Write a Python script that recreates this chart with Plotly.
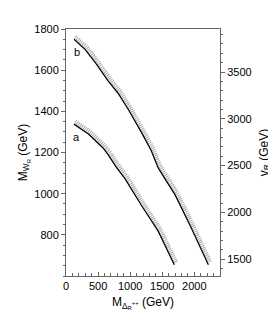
import plotly.graph_objects as go

# curve b (upper)
b_x = [125, 300, 469, 650, 812, 969, 1172, 1328, 1437, 1600, 1703, 1953, 2219]
b_y = [1750, 1700, 1632, 1550, 1488, 1410, 1300, 1210, 1125, 1045, 993, 833, 655]
b_band_x = [145, 323, 493, 675, 838, 995, 1198, 1355, 1464, 1627, 1731, 1981, 2248]
b_band_y = [1762, 1712, 1644, 1562, 1500, 1422, 1312, 1222, 1137, 1057, 1005, 845, 667]
# curve a (lower)
a_x = [125, 350, 578, 656, 781, 922, 1172, 1437, 1688]
a_y = [1338, 1290, 1222, 1190, 1130, 1072, 945, 818, 655]
a_band_x = [145, 373, 602, 681, 807, 949, 1199, 1465, 1717]
a_band_y = [1350, 1302, 1234, 1202, 1142, 1084, 957, 830, 667]

x_range = [0, 2400]
y_range = [600, 1800]
y2_range = [1320, 3960]
x_ticks = [0, 500, 1000, 1500, 2000]
y_ticks = [800, 1000, 1200, 1400, 1600, 1800]
y2_ticks = [1500, 2000, 2500, 3000, 3500]

fig = go.Figure()
for bx, by in [(b_band_x, b_band_y), (a_band_x, a_band_y)]:
    fig.add_trace(go.Scatter(x=bx, y=by, mode="lines", line=dict(color="#a8a8a8", width=4, dash="1px,1px"),
                             showlegend=False, hoverinfo="skip"))
for cx, cy in [(b_x, b_y), (a_x, a_y)]:
    fig.add_trace(go.Scatter(x=cx, y=cy, mode="lines", line=dict(color="black", width=1.3),
                             showlegend=False))
fig.add_trace(go.Scatter(x=[None], y=[None], yaxis="y2", showlegend=False))

fig.add_annotation(x=165, y=1690, text="b", showarrow=False, font=dict(size=11, color="black"))
fig.add_annotation(x=165, y=1275, text="a", showarrow=False, font=dict(size=11, color="black"))

font = dict(family="Liberation Sans, Arial, sans-serif", size=11, color="black")
fig.update_layout(
    width=276, height=322,
    margin=dict(l=58, r=64, t=21, b=54),
    paper_bgcolor="white", plot_bgcolor="white",
    font=font,
    xaxis=dict(range=x_range, tickvals=x_ticks, showgrid=False, zeroline=False,
               showline=True, linecolor="#666666", linewidth=1, mirror=True,
               ticks="inside", ticklen=4, tickcolor="#666666",
               minor=dict(ticks="inside", ticklen=3, dtick=100, tickcolor="#666666"),
               title=dict(text="M<sub>Δ<sub>R</sub><sup>++</sup></sub> (GeV)", standoff=6, font=dict(size=12))),
    yaxis=dict(range=y_range, tickvals=y_ticks, showgrid=False, zeroline=False,
               showline=True, linecolor="#666666", linewidth=1,
               ticks="outside", ticklen=4, tickcolor="#666666",
               minor=dict(ticks="outside", ticklen=2, dtick=50, tickcolor="#666666"),
               title=dict(text="M<sub>W<sub>R</sub></sub> (GeV)", standoff=4, font=dict(size=12))),
    yaxis2=dict(range=y2_range, tickvals=y2_ticks, overlaying="y", side="right",
                showgrid=False, zeroline=False, showline=True, linecolor="#666666", linewidth=1,
                ticks="outside", ticklen=4, tickcolor="#666666",
                minor=dict(ticks="outside", ticklen=2, dtick=100, tickcolor="#666666"),
                title=dict(text="v<sub>R</sub> (GeV)", standoff=8, font=dict(size=12))),
)
fig.write_html("out.html")
